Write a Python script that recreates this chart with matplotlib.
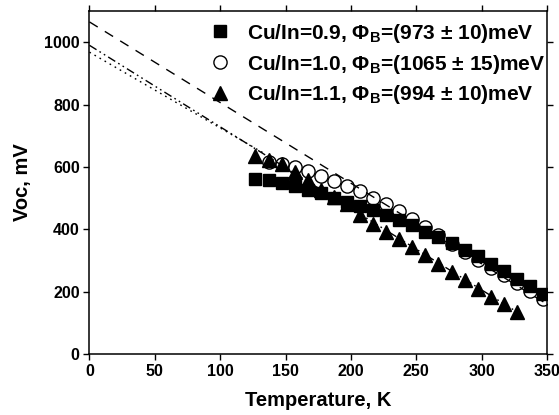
import matplotlib
matplotlib.use("Agg")
import matplotlib.pyplot as plt
import numpy as np

plt.rcParams['font.family'] = ['Liberation Sans', 'DejaVu Sans']
plt.rcParams['font.weight'] = 'bold'
plt.rcParams['mathtext.fontset'] = 'custom'
plt.rcParams['mathtext.rm'] = 'Liberation Sans:bold'
plt.rcParams['mathtext.bf'] = 'Liberation Sans:bold'
plt.rcParams['mathtext.it'] = 'Liberation Sans:bold'
plt.rcParams['mathtext.default'] = 'bf'

# Cu/In = 0.9 (filled squares)
T_09 = [127, 137, 147, 157, 167, 177, 187, 197, 207, 217, 227, 237, 247,
        257, 267, 277, 287, 297, 307, 317, 327, 337, 347]
V_09 = [562, 557, 548, 538, 527, 516, 501, 487, 474, 461, 445, 429, 413,
        391, 375, 356, 333, 314, 290, 267, 242, 218, 194]

# Cu/In = 1.0 (open circles)
T_10 = [137, 147, 157, 167, 177, 187, 197, 207, 217, 227, 237, 247, 257,
        267, 277, 287, 297, 307, 317, 327, 337, 347]
V_10 = [615, 610, 600, 586, 571, 555, 539, 522, 501, 480, 458, 434, 407,
        381, 354, 327, 303, 276, 253, 228, 203, 176]

# Cu/In = 1.1 (filled triangles)
T_11 = [127, 137, 147, 157, 167, 177, 187, 197, 207, 217, 227, 237, 247,
        257, 267, 277, 287, 297, 307, 317, 327]
V_11 = [634, 621, 608, 583, 557, 527, 504, 480, 447, 418, 391, 370, 343,
        317, 290, 263, 237, 210, 183, 159, 135]

labels = [r"Cu/In=0.9, $\Phi_B$=(973 ± 10)meV",
          r"Cu/In=1.0, $\Phi_B$=(1065 ± 15)meV",
          r"Cu/In=1.1, $\Phi_B$=(994 ± 10)meV"]

# extrapolation lines: intercept at T=0 and end point (T, V)
fit_start_V = [968, 1065, 990]
fit_end_T = [135, 350, 327]
fit_end_V = [640, 160, 135]
fit_styles = [(0, (1.2, 3)), (0, (7, 6)), (0, (6, 2.5, 1.2, 2.5, 1.2, 2.5))]

fig = plt.figure(figsize=(5.59, 4.15), dpi=100)
ax = fig.add_axes([0.16, 0.147, 0.8185, 0.8265])

for v0, te, ve, ls in zip(fit_start_V, fit_end_T, fit_end_V, fit_styles):
    ax.plot([0, te], [v0, ve], color='black', lw=1.0, linestyle=ls, zorder=1)

ax.plot(T_09, V_09, linestyle='none', marker='s', ms=8, mfc='black',
        mec='black', label=labels[0], zorder=3)
ax.plot(T_10, V_10, linestyle='none', marker='o', ms=9.5, mfc='none',
        mec='black', mew=1.0, label=labels[1], zorder=3)
ax.plot(T_11, V_11, linestyle='none', marker='^', ms=10.5, mfc='black',
        mec='black', label=labels[2], zorder=3)

ax.set_xlim(0, 350)
ax.set_ylim(0, 1100)
ax.set_xticks(np.arange(0, 351, 50))
ax.set_yticks(np.arange(0, 1001, 200))
ax.tick_params(axis='both', which='both', direction='out', length=4, width=1,
               labelsize=11.5, top=True, right=True, pad=3)
for lab in ax.get_xticklabels() + ax.get_yticklabels():
    lab.set_fontweight('bold')
for s in ax.spines.values():
    s.set_linewidth(1.1)

ax.set_xlabel("Temperature, K", fontsize=14.5, fontweight='bold', labelpad=9)
ax.set_ylabel("Voc, mV", fontsize=14.5, fontweight='bold', labelpad=9)

leg = ax.legend(loc='upper right', bbox_to_anchor=(1.0, 0.975),
                frameon=False, fontsize=15,
                handlelength=1.0, handletextpad=0.8, labelspacing=0.38,
                borderaxespad=0.0, borderpad=0.1)
for t in leg.get_texts():
    t.set_fontweight('bold')

fig.savefig("out.png", dpi=100)
